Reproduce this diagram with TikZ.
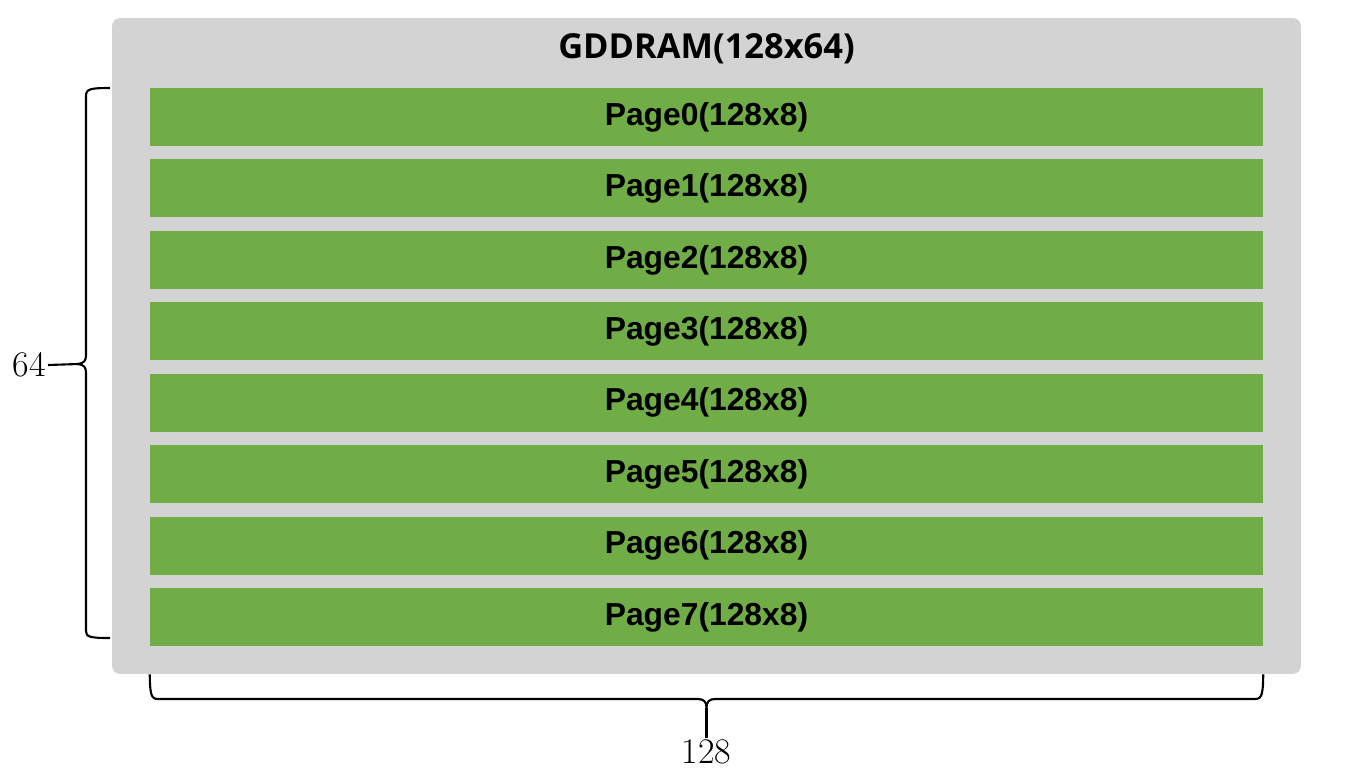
\documentclass[tikz,border=0pt]{standalone}
\usepackage{fontspec}
\usepackage{xcolor}
\newfontfamily\titlefont{Open Sans}
\newfontfamily\pagefont{Liberation Sans}
\definecolor{ramgray}{HTML}{D3D3D3}
\definecolor{pagegreen}{HTML}{70AD47}
\def\npages{7}
\tikzset{
  ram/.style={fill=ramgray, rounded corners=0.16cm, inner sep=0pt},
  page/.style={fill=pagegreen, inner sep=0pt, minimum width=22.26cm, minimum height=1.16cm,
    font=\pagefont\bfseries\fontsize{18.1}{21}\selectfont},
  bracer/.style={line width=1.2pt, line join=round},
  dimlabel/.style={font=\fontsize{20.5}{24}\selectfont, inner sep=1pt}
}
\begin{document}
\begin{tikzpicture}[x=0.02cm, y=-0.02cm]
    \useasboundingbox (0,0) rectangle (1347,779);
    \node[ram, minimum width=23.78cm, minimum height=13.12cm] (gddram) at (706.5,346) {};
    \node[font=\titlefont\bfseries\fontsize{19.6}{23}\selectfont] (title) at (706.5,49) {GDDRAM(128x64)};
    \foreach \i in {0, ..., \npages} {
      \node[page] (page\i) at (706.5, 117 + 71.43*\i) {Page\i(128x8)};
    }
    % dimensions
    \coordinate (tip64) at (78,364);
    \coordinate (tip128) at (706.5,708);
    \node[dimlabel, anchor=east] (lab64) at (48,365) {64};
    \node[dimlabel, anchor=north] (lab128) at (706.5,738) {128};
    \draw[bracer] (110,88) .. controls (90,88) and (86,89) .. (86,96) -- (86,355)
      .. controls (86,361) and (84,363) .. (tip64)
      .. controls (84,365) and (86,367) .. (86,373) -- (86,631)
      .. controls (86,637) and (90,638) .. (110,638);
    \draw[bracer] (page7.west |- gddram.south) .. controls (150,694) and (151,699) .. (158,699) -- (698,699)
      .. controls (704,699) and (706.5,702) .. (tip128)
      .. controls (706.5,702) and (709,699) .. (715,699) -- (1255,699)
      .. controls (1262,699) and (1263,694) .. (page7.east |- gddram.south);
    \draw[bracer] (tip64) -- (lab64.east);
    \draw[bracer] (tip128) -- (lab128.north);
\end{tikzpicture}
\end{document}
